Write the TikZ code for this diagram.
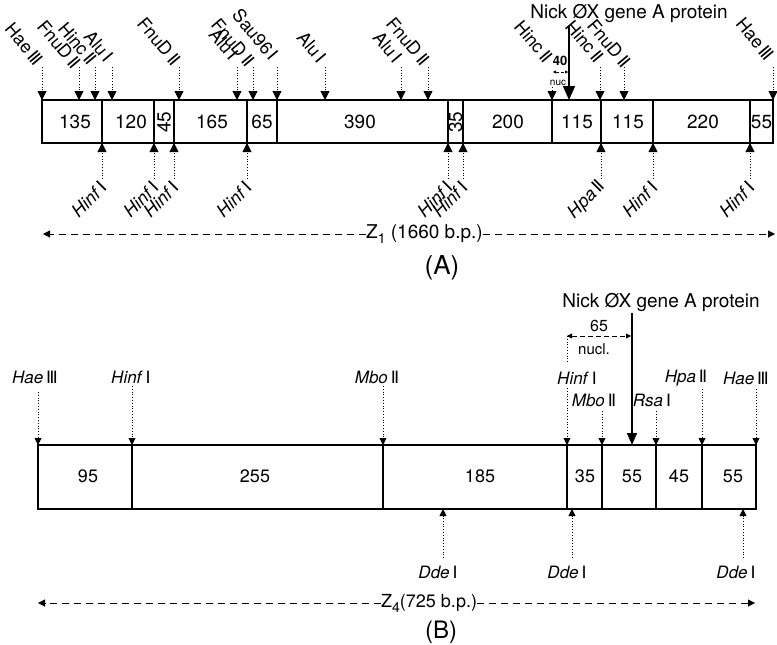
\documentclass[tikz,border=0pt]{standalone}
\usepackage{fontspec}
\setmainfont{TeX Gyre Heros}
\newfontfamily\rnumfont{DejaVu Sans}
\usetikzlibrary{arrows.meta}
\newcommand\enzu[2]{#1\,{\rnumfont #2}}
\newcommand\enzit[2]{\textit{#1}\,{\rnumfont #2}}
\newcommand\fs[1]{\fontsize{#1}{#1}\selectfont}
\begin{document}
\begin{tikzpicture}[x=1pt,y=-1pt,
  boxline/.style={line width=1.3pt},
  numA/.style={font=\fs{19}, inner sep=0pt},
  numB/.style={font=\fs{18}, inner sep=0pt},
  lblA/.style={font=\fs{18}, inner sep=0pt},
  lblB/.style={font=\fs{17}, inner sep=0pt},
  siteA/.style={dotted, line width=0.8pt, -{Triangle[length=9pt,width=9pt]}},
  siteB/.style={dotted, line width=0.8pt, -{Triangle[length=7pt,width=7pt]}},
  nickarrow/.style={line width=1.4pt, -{Triangle[length=14pt,width=12pt]}},
  span/.style={dashed, dash pattern=on 7pt off 5pt, line width=1pt, -{Triangle[length=7pt,width=7pt]}},
  title/.style={font=\fs{19}, inner sep=0pt},
  panel/.style={font=\fs{26}, inner sep=0pt}
]
\useasboundingbox (0,0) rectangle (777,645);

% ---------------- Panel A ----------------
\draw[boxline] (42,100) rectangle (773,143);
\foreach \xx in {102,154,174,247,277,448,463,552,601,653,750}
  \draw[boxline] (\xx,100) -- (\xx,143);
\foreach \n/\xx/\txt in {1/75/135, 2/131/120, 4/212/165, 5/262/65, 6/360/390, 8/508/200, 9/577/115, 10/628/115, 11/703/220, 12/761.5/55}
  \node[numA] (na\n) at (\xx,122) {\txt};
\node[numA, rotate=90] (na3) at (164,122) {45};
\node[numA, rotate=90] (na7) at (455.5,122) {35};

% top sites
\foreach \n/\xx/\nm/\rn/\lx/\yy/\ys in {1/42/Hae/Ⅲ/40/63/67, 2/79/FnuD/Ⅱ/77/66/67, 3/95/Hinc/Ⅱ/93/62/67, 4/112/Alu/Ⅰ/110/60/67, 5/179/FnuD/Ⅱ/177/63/67, 6/237/Alu/Ⅰ/235/58/67, 7/253/FnuD/Ⅱ/251/64/67, 8/277/Sau96/Ⅰ/275/58/67, 9/325/Alu/Ⅰ/323/61/67, 10/401/Alu/Ⅰ/399/61/67, 11/428/FnuD/Ⅱ/426/63/67, 12/552/Hinc/Ⅱ/549/60/87, 13/600/Hinc/Ⅱ/600/60/67, 14/624/FnuD/Ⅱ/627/65/67, 15/773/Hae/Ⅲ/771/58/67}
{
  \coordinate (ta\n) at (\xx,100);
  \coordinate (tas\n) at (\xx,\ys);
  \draw[siteA] (tas\n) -- (ta\n);
  \node[lblA, rotate=-50, anchor=east] (tal\n) at (\lx,\yy) {\enzu{\nm}{\rn}};
}

% bottom sites
\foreach \n/\xx/\nm/\rn in {1/102/Hinf/Ⅰ, 2/154/Hinf/Ⅰ, 3/174/Hinf/Ⅰ, 4/247/Hinf/Ⅰ, 5/448/Hinf/Ⅰ, 6/463/Hinf/Ⅰ, 7/601/Hpa/Ⅱ, 8/653/Hinf/Ⅰ, 9/750/Hinf/Ⅰ}
{
  \coordinate (ba\n) at (\xx,143);
  \coordinate (bas\n) at (\xx,179);
  \draw[siteA] (bas\n) -- (ba\n);
  \node[lblA, rotate=45, anchor=east] (bal\n) at ({\xx+2},184) {\enzit{\nm}{\rn}};
}

% nick A
\node[title] (nickAt) at (629,13) {Nick ØX gene A protein};
\coordinate (nickA) at (569,100);
\coordinate (nickAs) at (569,26);
\draw[nickarrow] (nickAs) -- (nickA);
\node[font=\bfseries\fs{13}, inner sep=0pt] (fortyA) at (560,61) {40};
\node[font=\fs{10}, inner sep=0pt] (nucA) at (558,83) {nuc};
\coordinate (fl) at (553,72);
\coordinate (fr) at (568,72);
\draw[densely dashed, line width=0.6pt, {Triangle[length=3pt,width=3pt]}-{Triangle[length=3pt,width=3pt]}] (fl) -- (fr);

% Z1
\node[title, anchor=west] (z1) at (366,234) {Z\raisebox{-5pt}{\fs{14}1} (1660 b.p.)};
\coordinate (z1l) at (43,234);
\coordinate (z1r) at (775,234);
\draw[span] (z1.west) -- (z1l);
\draw[span] (z1.east) -- (z1r);
\node[panel] (pA) at (442,268) {(A)};

% ---------------- Panel B ----------------
\draw[boxline] (38,445) rectangle (756,509);
\foreach \xx in {132,383,567,602,656,702}
  \draw[boxline] (\xx,445) -- (\xx,509);
\foreach \n/\xx/\txt in {1/88/95, 2/255/255, 3/480/185, 4/585/35, 5/632/55, 6/679/45, 7/733/55}
  \node[numB] (nb\n) at (\xx,476) {\txt};

% top sites
\foreach \n/\xx/\nm/\rn/\lx/\ly/\ys in {1/38/Hae/Ⅲ/35/377/392, 2/132/Hinf/Ⅰ/131/377/386, 3/383/Mbo/Ⅱ/377/377/386, 4/567/Hinf/Ⅰ/577/378/388, 5/602/Mbo/Ⅱ/594/400/411, 6/656/Rsa/Ⅰ/652/400/411, 7/702/Hpa/Ⅱ/686/378/389, 8/756/Hae/Ⅲ/746/378/389}
{
  \coordinate (tb\n) at (\xx,445);
  \coordinate (tbs\n) at (\xx,\ys);
  \draw[siteB] (tbs\n) -- (tb\n);
  \node[lblB] (tbl\n) at (\lx,\ly) {\enzit{\nm}{\rn}};
}

% bottom sites
\foreach \n/\xx/\lx in {1/443/438, 2/572/567, 3/743/736}
{
  \coordinate (bb\n) at (\xx,509);
  \coordinate (bbs\n) at (\xx,558);
  \draw[siteB] (bbs\n) -- (bb\n);
  \node[lblB] (bbl\n) at (\lx,572) {\enzit{Dde}{Ⅰ}};
}

% nick B
\node[title] (nickBt) at (661,302) {Nick ØX gene A protein};
\coordinate (nickB) at (632,445);
\coordinate (nickBs) at (632,313);
\draw[line width=1.4pt, -{Triangle[length=12pt,width=10pt]}] (nickBs) -- (nickB);
\node[font=\fs{16}, inner sep=0pt] (sixtyfive) at (599,326) {65};
\node[font=\fs{15}, inner sep=0pt] (nucl) at (594,349) {nucl.};
\coordinate (sl) at (567,336);
\coordinate (sr) at (631,336);
\draw[dashed, dash pattern=on 5pt off 3pt, line width=0.9pt, {Triangle[length=5pt,width=5pt]}-{Triangle[length=5pt,width=5pt]}] (sl) -- (sr);
\coordinate (hinfBtop) at (567,362);
\draw[dotted, line width=0.8pt] (sl) -- (hinfBtop);

% Z4
\node[font=\fs{18}, inner sep=0pt, anchor=west] (z4) at (381,603) {Z\raisebox{-5pt}{\fs{14}4}(725 b.p.)};
\coordinate (z4l) at (38,603);
\coordinate (z4r) at (755,603);
\draw[span] (z4.west) -- (z4l);
\draw[span] (z4.east) -- (z4r);
\node[panel, font=\fs{24}] (pB) at (441,632) {(B)};
\end{tikzpicture}
\end{document}
